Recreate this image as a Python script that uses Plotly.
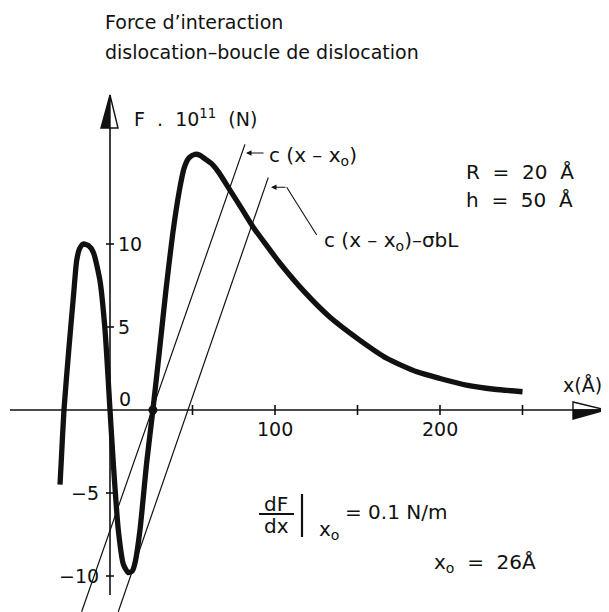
import plotly.graph_objects as go

# ---------------- data ----------------
force_x = [-30.3, -29.5, -27.9, -25.0, -22.2, -20.2, -18.5, -16.2, -13.0, -10.1,
           -6.1, -3.0, 0.0, 2.0, 5.0, 8.1, 11.1, 13.5, 15.2, 18.2, 22.2, 26.0,
           30.0, 34.0, 38.0, 42.0, 45.0, 48.0, 51.5, 54.5, 58.0, 62.0, 66.0,
           72.7, 80.0, 86.9, 95.0, 103.0, 118.0, 133.0, 151.5, 168.0, 186.0,
           200.0, 216.0, 233.0, 250.0]
force_y = [-4.5, -3.0, 0.0, 3.6, 6.8, 9.0, 9.7, 10.0, 9.9, 9.5,
           7.8, 4.8, 0.0, -3.2, -7.2, -9.3, -9.8, -9.7, -9.2, -7.2, -3.2, 0.0,
           3.6, 7.3, 10.6, 13.2, 14.6, 15.2, 15.4, 15.35, 15.1, 14.8, 14.3,
           13.25, 12.1, 11.0, 9.9, 8.84, 7.1, 5.62, 4.2, 3.1, 2.3,
           1.9, 1.5, 1.25, 1.1]

line1_x = [-17.2, 81.8]      # c(x - x0)
line1_y = [-12.15, 16.0]
line2_x = [5.0, 95.9]        # c(x - x0) - sigma b L
line2_y = [-12.15, 14.0]

x0_point = [26.0]
x0_value = [0.0]

x_ticks = [50, 100, 150, 200, 250]
x_tick_labels = {100: "100", 200: "200"}
y_ticks = [-10, -5, 5, 10]
y_tick_labels = {-10: "\u221210", -5: "\u22125", 5: "5", 10: "10"}

# ---------------- layout helpers (screen pixel coordinates) ----------------
OFF = 8                      # default page margin of the html body
WF, HF = 609 - OFF, 612 - OFF
X0_PX, PX_PER_X = 110.0, 1.65
Y0_PX, PX_PER_Y = 410.0, 16.6


def px2x(px):
    return (px - X0_PX) / PX_PER_X


def py2y(py):
    return (Y0_PX - py) / PX_PER_Y


INK = "#111111"
FONT = "DejaVu Sans"
SP = "\u00a0"

fig = go.Figure()

fig.add_trace(go.Scatter(x=force_x, y=force_y, mode="lines",
                         line=dict(color=INK, width=5.3, shape="spline", smoothing=0.6),
                         hoverinfo="skip"))
fig.add_trace(go.Scatter(x=line1_x, y=line1_y, mode="lines",
                         line=dict(color=INK, width=1.2), hoverinfo="skip"))
fig.add_trace(go.Scatter(x=line2_x, y=line2_y, mode="lines",
                         line=dict(color=INK, width=1.2), hoverinfo="skip"))
fig.add_trace(go.Scatter(x=x0_point, y=x0_value, mode="markers",
                         marker=dict(color=INK, size=9), hoverinfo="skip"))

shapes = []
# axes
shapes.append(dict(type="line", x0=px2x(10), x1=px2x(580), y0=0, y1=0,
                   line=dict(color=INK, width=1.6)))
shapes.append(dict(type="line", x0=0, x1=0, y0=py2y(595), y1=py2y(120),
                   line=dict(color=INK, width=1.6)))
# x arrow: top half white (outlined), bottom half black
xt, xb = px2x(606), px2x(573)
shapes.append(dict(type="path",
                   path=f"M {xb} {py2y(402)} L {xt} {0} L {xb} {0} Z",
                   fillcolor="white", line=dict(color=INK, width=1.4)))
shapes.append(dict(type="path",
                   path=f"M {xb} {0} L {xt} {0} L {xb} {py2y(419)} Z",
                   fillcolor=INK, line=dict(color=INK, width=1.4)))
# y arrow: left half black, right half white (outlined)
yt, yb = py2y(95), py2y(128)
shapes.append(dict(type="path",
                   path=f"M {px2x(101)} {yb} L 0 {yt} L 0 {yb} Z",
                   fillcolor=INK, line=dict(color=INK, width=1.4)))
shapes.append(dict(type="path",
                   path=f"M 0 {yb} L 0 {yt} L {px2x(118)} {yb} Z",
                   fillcolor="white", line=dict(color=INK, width=1.4)))
# ticks
for t in x_ticks:
    shapes.append(dict(type="line", x0=t, x1=t, y0=py2y(415), y1=py2y(405),
                       line=dict(color=INK, width=1.6)))
for t in y_ticks:
    shapes.append(dict(type="line", x0=px2x(106), x1=px2x(114), y0=t, y1=t,
                       line=dict(color=INK, width=1.6)))
# leader line for second label
shapes.append(dict(type="line", x0=px2x(316.7), y0=py2y(235), x1=px2x(286.7), y1=py2y(187.3),
                   line=dict(color=INK, width=1.1)))
# fraction bar and evaluation bar
shapes.append(dict(type="line", x0=px2x(259), x1=px2x(294), y0=py2y(514), y1=py2y(514),
                   line=dict(color=INK, width=1.8)))
shapes.append(dict(type="line", x0=px2x(302), x1=px2x(302), y0=py2y(494), y1=py2y(537),
                   line=dict(color=INK, width=2.2)))

ann = []


def txt(text, px, py, size=19, xanchor="left", yanchor="middle"):
    ann.append(dict(text=text, x=(px - OFF) / WF, y=1 - (py - OFF) / HF,
                    xref="paper", yref="paper",
                    xanchor=xanchor, yanchor=yanchor, showarrow=False,
                    font=dict(family=FONT, size=size, color=INK)))


txt("Force d\u2019interaction", 103, 22, 19)
txt("dislocation\u2013boucle de dislocation", 103, 52, 19)
txt(f"F{SP}{SP}.{SP}{SP}10<sup>11</sup>{SP}{SP}(N)", 132, 118, 19)
txt(f"c{SP}(x{SP}\u2013{SP}x<sub>o</sub>)", 267, 156, 20)
txt(f"c{SP}(x{SP}\u2013{SP}x<sub>o</sub>)\u2013\u03c3bL", 322, 241, 20)
txt(f"R{SP}{SP}={SP}{SP}20{SP}{SP}\u00c5", 464, 172, 20)
txt(f"h{SP}{SP}={SP}{SP}50{SP}{SP}\u00c5", 464, 200, 20)
txt("x(\u00c5)", 561, 385, 19)
for t, lab in x_tick_labels.items():
    ann.append(dict(text=lab, x=t, y=py2y(429), xref="x", yref="y", showarrow=False,
                    xanchor="center", yanchor="middle",
                    font=dict(family=FONT, size=19, color=INK)))
for t, lab in y_tick_labels.items():
    if t > 0:
        ann.append(dict(text=lab, x=px2x(116), y=t, xref="x", yref="y", showarrow=False,
                        xanchor="left", yanchor="middle",
                        font=dict(family=FONT, size=19, color=INK)))
    else:
        ann.append(dict(text=lab, x=px2x(101), y=t, xref="x", yref="y", showarrow=False,
                        xanchor="right", yanchor="middle",
                        font=dict(family=FONT, size=19, color=INK)))
txt("0", 117, 399, 19)
txt("dF", 276, 504, 20, xanchor="center")
txt("dx", 276, 526, 20, xanchor="center")
txt("x<sub>o</sub>", 317, 530, 20)
txt(f"={SP}0.1{SP}N/m", 343, 512, 20)
txt(f"x<sub>o</sub>{SP}{SP}={SP}{SP}26\u00c5", 432, 563, 20)

# arrows of the labels
ann.append(dict(x=px2x(246), y=py2y(153), ax=px2x(265), ay=py2y(153), axref="x", ayref="y",
                xref="x", yref="y", text="", showarrow=True, arrowhead=2, arrowsize=1,
                arrowwidth=1.1, arrowcolor=INK))
ann.append(dict(x=px2x(271), y=py2y(187.3), ax=px2x(287), ay=py2y(187.3), axref="x", ayref="y",
                xref="x", yref="y", text="", showarrow=True, arrowhead=2, arrowsize=1,
                arrowwidth=1.1, arrowcolor=INK))

fig.update_layout(
    width=WF, height=HF, margin=dict(l=0, r=0, t=0, b=0),
    paper_bgcolor="white", plot_bgcolor="white", showlegend=False,
    xaxis=dict(range=[px2x(OFF), px2x(OFF + WF)], visible=False, fixedrange=True),
    yaxis=dict(range=[py2y(OFF + HF), py2y(OFF)], visible=False, fixedrange=True),
    shapes=shapes, annotations=ann,
)

fig.write_html("out.html")
